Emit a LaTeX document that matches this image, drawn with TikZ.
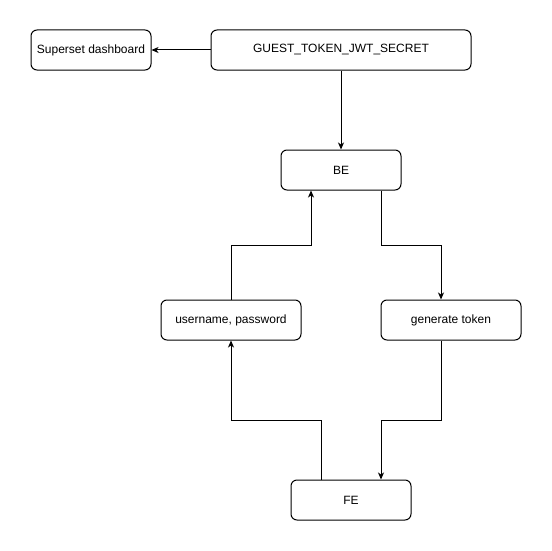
\documentclass[tikz,border=0pt]{standalone}
\usepackage{fontspec}
\setmainfont{Liberation Sans}
\usetikzlibrary{arrows.meta}
\begin{document}
\begin{tikzpicture}[x=1pt,y=-1pt,
  box/.style={draw=black,line width=1pt,rounded corners=6pt,fill=white,inner sep=0pt,
    font=\fontsize{12}{14}\selectfont},
  conn/.style={draw=black,line width=1pt,-{Stealth[length=7pt,width=6pt,inset=2pt]}}]
\useasboundingbox[fill=white] (0,0) rectangle (551,551);
\node[box,minimum width=120pt,minimum height=40pt] (sd) at (91,50) {Superset dashboard};
\node[box,minimum width=260pt,minimum height=40pt] (gt) at (341,50) {GUEST\_TOKEN\_JWT\_SECRET};
\node[box,minimum width=120pt,minimum height=40pt] (be) at (341,170) {BE};
\node[box,minimum width=140pt,minimum height=40pt] (up) at (231,320) {username, password};
\node[box,minimum width=140pt,minimum height=40pt] (tk) at (451,320) {generate token};
\node[box,minimum width=120pt,minimum height=40pt] (fe) at (351,500) {FE};
\coordinate (c1) at (381,245);
\coordinate (c2) at (441,245);
\coordinate (c3) at (231,245);
\coordinate (c4) at (311,245);
\coordinate (c5) at (321,420);
\coordinate (c6) at (231,420);
\coordinate (c7) at (441,420);
\coordinate (c8) at (381,420);
\draw[conn] (gt.west) -- (sd.east);
\draw[conn] (gt.south) -- (be.north);
\draw[conn] (be.south -| c1) -- (c1) -- (c2) -- (tk.north -| c2);
\draw[conn] (up.north) -- (c3) -- (c4) -- (be.south -| c4);
\draw[conn] (fe.north -| c5) -- (c5) -- (c6) -- (up.south);
\draw[conn] (tk.south -| c7) -- (c7) -- (c8) -- (fe.north -| c8);
\end{tikzpicture}
\end{document}
